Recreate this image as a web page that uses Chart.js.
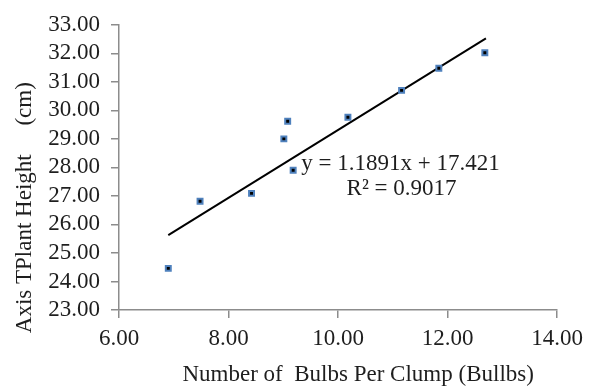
<!DOCTYPE html>
<html>
<head>
<meta charset="utf-8">
<script src="https://cdn.jsdelivr.net/npm/chart.js@4/dist/chart.umd.min.js"></script>
<style>
  html, body { margin: 0; padding: 0; background: #fff; }
  #wrap { width: 590px; height: 391px; }
</style>
</head>
<body>
<div id="wrap"><canvas id="c" width="590" height="391"></canvas></div>
<script>
// ---- data ----
const bulbs  = [6.90, 7.48, 8.42, 9.01, 9.08, 9.18, 10.18, 11.16, 11.84, 12.68];
const height = [24.46, 26.81, 27.09, 29.00, 29.62, 27.90, 29.76, 30.70, 31.48, 32.02];
const trendSlope = 1.1891;
const trendIntercept = 17.421;
const trendX = [6.90, 12.70];
const equationLines = ['y = 1.1891x + 17.421', 'R\u00B2 = 0.9017'];
const xTitle = 'Number of  Bulbs Per Clump (Bullbs)';
const yTitle = 'Axis TPlant Height     (cm)';

const trendY = trendX.map(x => trendSlope * x + trendIntercept);
const FONT = "'Liberation Serif', 'Times New Roman', serif";
const TXT = '#1e1e1e';
const AXIS = '#8c8c8c';

const eqPlugin = {
  id: 'eq',
  afterDatasetsDraw(chart) {
    const {ctx, scales: {x, y}} = chart;
    ctx.save();
    ctx.font = '23px ' + FONT;
    ctx.fillStyle = TXT;
    ctx.textAlign = 'center';
    ctx.textBaseline = 'middle';
    ctx.fillText(equationLines[0], x.getPixelForValue(11.14), y.getPixelForValue(28.12));
    ctx.fillText(equationLines[1], x.getPixelForValue(11.16), y.getPixelForValue(27.25));
    ctx.restore();
  }
};

new Chart(document.getElementById('c'), {
  type: 'scatter',
  data: {
    datasets: [
      {
        label: 'Plant height',
        data: bulbs.map((b, i) => ({x: b, y: height[i]})),
        pointStyle: 'rect',
        pointRadius: 3.5,
        pointHoverRadius: 3.5,
        backgroundColor: '#000',
        borderColor: '#4F81BD',
        borderWidth: 2,
        order: 1
      },
      {
        label: 'Linear trend',
        type: 'line',
        data: trendX.map((tx, i) => ({x: tx, y: trendY[i]})),
        borderColor: '#000',
        borderWidth: 2,
        pointRadius: 0,
        fill: false,
        order: 2
      }
    ]
  },
  options: {
    responsive: false,
    animation: false,
    layout: { padding: { top: 23, right: 27, left: 0, bottom: 0 } },
    plugins: {
      legend: { display: false },
      tooltip: { enabled: false }
    },
    scales: {
      x: {
        type: 'linear',
        min: 6, max: 14,
        border: { color: AXIS, width: 1.5 },
        grid: { drawOnChartArea: false, drawTicks: true, tickLength: 8, color: AXIS, lineWidth: 1.5 },
        ticks: {
          stepSize: 2, padding: 7, color: TXT, autoSkip: false,
          font: { family: FONT, size: 23 },
          callback: v => Number(v).toFixed(2),
          maxRotation: 0
        },
        title: {
          display: true,
          text: '       ' + xTitle,
          color: TXT,
          font: { family: FONT, size: 23 },
          padding: { top: 0, bottom: 2 }
        },
        afterFit(s) { s.height = 81; }
      },
      y: {
        type: 'linear',
        min: 23, max: 33,
        border: { color: AXIS, width: 1.5 },
        grid: { drawOnChartArea: false, drawTicks: true, tickLength: 8, color: AXIS, lineWidth: 1.5 },
        ticks: {
          stepSize: 1, padding: 11, color: TXT, autoSkip: false,
          font: { family: FONT, size: 23 },
          callback: v => Number(v).toFixed(2)
        },
        title: {
          display: true,
          text: yTitle + '              ',
          color: TXT,
          font: { family: FONT, size: 23 },
          padding: { top: 11, bottom: 0 }
        },
        afterFit(s) { s.width = 119; }
      }
    }
  },
  plugins: [eqPlugin]
});
</script>
</body>
</html>
